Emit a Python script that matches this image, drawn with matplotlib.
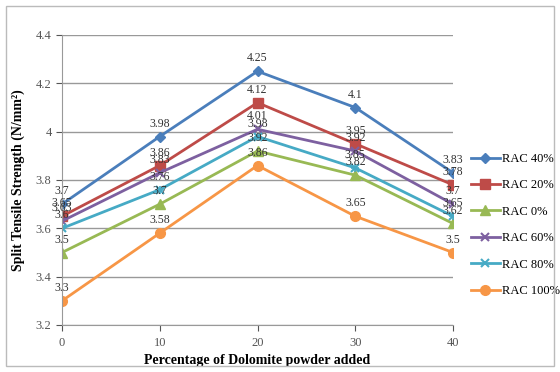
import matplotlib
matplotlib.use("Agg")
import matplotlib.pyplot as plt
from matplotlib.patches import Rectangle

plt.rcParams['font.family'] = ['Liberation Serif', 'DejaVu Serif']

# Data
dolomite = [0, 10, 20, 30, 40]
rac_40 = [3.7, 3.98, 4.25, 4.1, 3.83]
rac_20 = [3.65, 3.86, 4.12, 3.95, 3.78]
rac_0 = [3.5, 3.7, 3.92, 3.82, 3.62]
rac_60 = [3.63, 3.83, 4.01, 3.92, 3.7]
rac_80 = [3.6, 3.76, 3.98, 3.85, 3.65]
rac_100 = [3.3, 3.58, 3.86, 3.65, 3.5]

series = [
    ("RAC 40%", rac_40, "#4A7EBB", "D", 5),
    ("RAC 20%", rac_20, "#BE4B48", "s", 7),
    ("RAC 0%", rac_0, "#98B954", "^", 7),
    ("RAC 60%", rac_60, "#7D60A0", "x", 6),
    ("RAC 80%", rac_80, "#46AAC5", "x", 6),
    ("RAC 100%", rac_100, "#F79646", "o", 7),
]

fig = plt.figure(figsize=(5.6, 3.72), dpi=100)
ax = fig.add_axes([62 / 560, 1 - 325 / 372, (453 - 62) / 560, (325 - 35) / 372])

for name, vals, color, mk, ms in series:
    ax.plot(dolomite, vals, color=color, marker=mk, markersize=ms,
            linewidth=2, markeredgewidth=1.5 if mk == "x" else 1,
            label=name)
    if name == "RAC 80%":
        # star-like marker: overlay a plus on the x
        ax.plot(dolomite, vals, color=color, marker="+", markersize=ms,
                linestyle="none", markeredgewidth=1.2)
    for x, v in zip(dolomite, vals):
        ax.annotate(f"{v:g}", (x, v), xytext=(0, 5), textcoords="offset points",
                    ha="center", va="bottom", fontsize=8.5, color="#333333")

ax.set_xlim(0, 40)
ax.set_ylim(3.2, 4.4)
ax.set_xticks(dolomite)
ax.set_yticks([3.2, 3.4, 3.6, 3.8, 4.0, 4.2, 4.4])
ax.set_yticklabels(["3.2", "3.4", "3.6", "3.8", "4", "4.2", "4.4"])
ax.tick_params(labelsize=9, colors="#555555", length=4)
ax.tick_params(axis="x", direction="out", pad=5)
ax.grid(axis="y", color="#999999", linewidth=1)
for side in ["top", "right"]:
    ax.spines[side].set_visible(False)
ax.spines["left"].set_color("#999999")
ax.spines["bottom"].set_color("#999999")

ax.set_xlabel("Percentage of Dolomite powder added", fontsize=10,
              fontweight="bold", labelpad=3)
ax.set_ylabel("Split Tensile Strength (N/mm²)", fontsize=10,
              fontweight="bold", labelpad=8)

ax.legend(loc="center left", bbox_to_anchor=(1.03, 0.345), frameon=False,
          fontsize=9, handlelength=2.3, labelspacing=1.15,
          handletextpad=0.2, borderpad=0)

fig.patches.append(Rectangle((6 / 560, 6 / 372), 548 / 560, 360 / 372,
                             transform=fig.transFigure, fill=False,
                             edgecolor="#BBBBBB", linewidth=1))

fig.savefig("out.png", dpi=100)
